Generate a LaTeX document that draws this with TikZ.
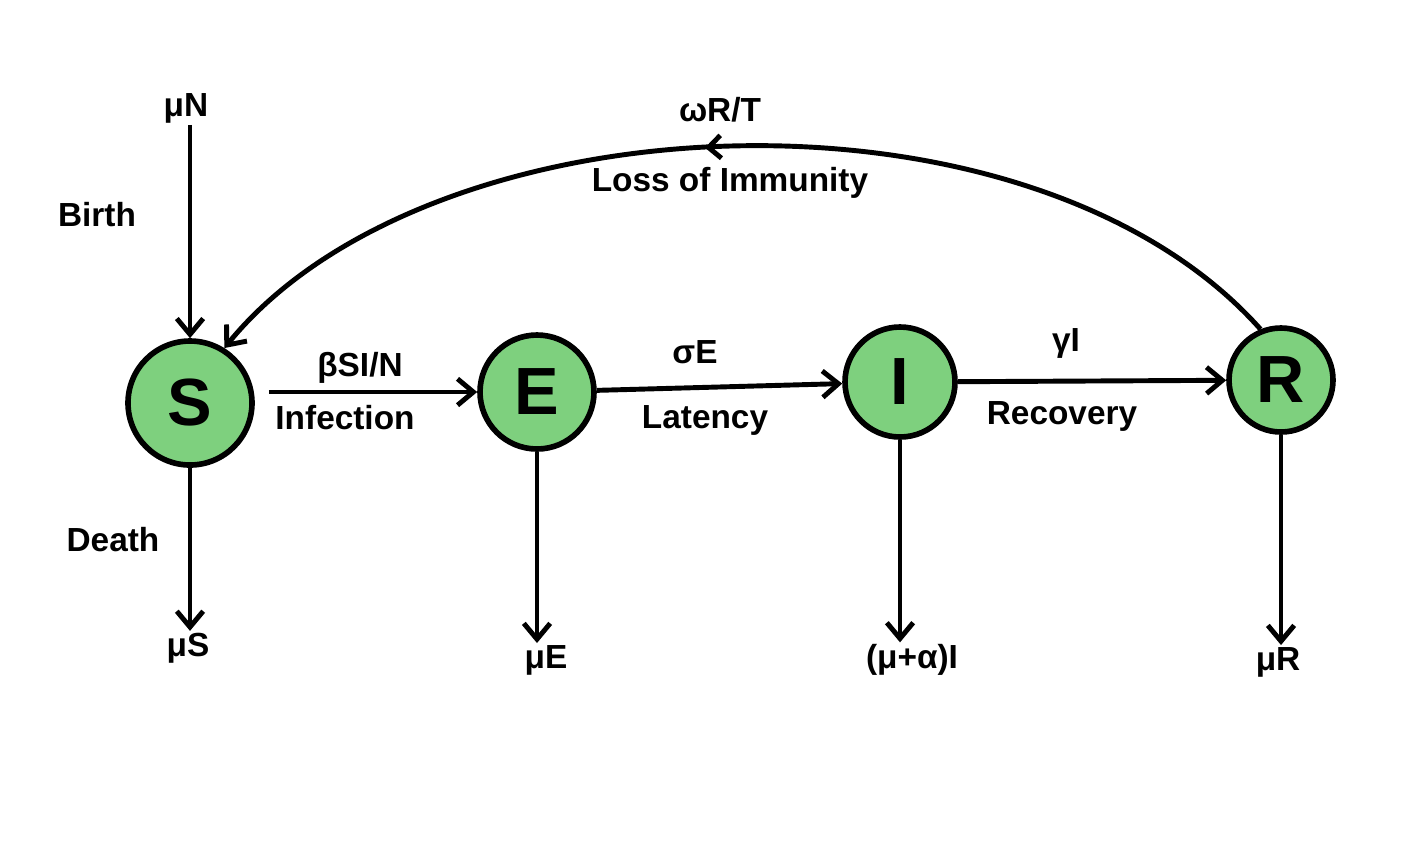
\documentclass[tikz,border=0pt]{standalone}
\usepackage{fontspec}
\setmainfont{Liberation Sans}
\usetikzlibrary{positioning,arrows.meta,decorations.markings}
\definecolor{compgreen}{RGB}{126,208,126}

\begin{document}
\begin{tikzpicture}[x=0.02cm,y=-0.02cm,
    comp/.style={circle,draw=black,line width=3.2pt,fill=compgreen,
      inner sep=0pt,font=\fontsize{38}{40}\selectfont\bfseries},
    lbl/.style={font=\fontsize{19}{22}\selectfont\bfseries,inner sep=1pt},
    flow/.style={line width=2.8pt,-{Straight Barb[length=9pt,width=15pt,line width=2.8pt]}}]
    \useasboundingbox (0,0) rectangle (1415,843);
    % compartments
    \node[comp,minimum size=124*0.02cm] (S) at (190,403) {S};
    \node[comp,minimum size=114*0.02cm] (E) at (537,392) {E};
    \node[comp,minimum size=110*0.02cm] (I) at (900,382) {I};
    \node[comp,minimum size=104*0.02cm] (R) at (1281,380) {R};
    % birth and death terms
    \node[lbl] (muN) at (186,108) {μN};
    \node[lbl] (birth) at (97,215) {Birth};
    \node[lbl] (death) at (113,540) {Death};
    \node[lbl] (muS) at (188,648) {μS};
    \node[lbl] (muE) at (546,660) {μE};
    \node[lbl] (muaI) at (912,660) {(μ+α)I};
    \node[lbl] (muR) at (1278,662) {μR};
    % transition labels
    \node[lbl] (inf) at (360,368) {βSI/N};
    \node[lbl] (infT) at (345,418) {Infection};
    \node[lbl] (lat) at (695,352) {σE};
    \node[lbl] (latT) at (705,420) {Latency};
    \node[lbl] (rec) at (1066,343) {γI};
    \node[lbl] (recT) at (1062,416) {Recovery};
    \node[lbl] (loss) at (720,110) {ωR/T};
    \node[lbl] (lossT) at (730,183) {Loss of Immunity};
    % flows
    \draw[flow] (muN.south -| S.north) -- (S.north);
    \draw[flow] (S.south) -- (S.south |- muS.north);
    \draw[flow] (E.south) -- (E.south |- muE.north);
    \draw[flow] (I.south) -- (I.south |- muaI.north);
    \draw[flow] (R.south) -- (R.south |- muR.north);
    \draw[flow,shorten <=8pt] (S.east |- E.west) -- (E.west);
    \draw[flow] (E) -- (I);
    \draw[flow] (I) -- (R);
    \draw[flow,postaction={decorate},decoration={markings,
        mark=at position 0.53 with {\arrow{Straight Barb[length=7pt,width=13pt,line width=2.8pt]}}}]
      (R.112) .. controls (1030,70) and (430,95) .. (S.58);
\end{tikzpicture}
\end{document}
